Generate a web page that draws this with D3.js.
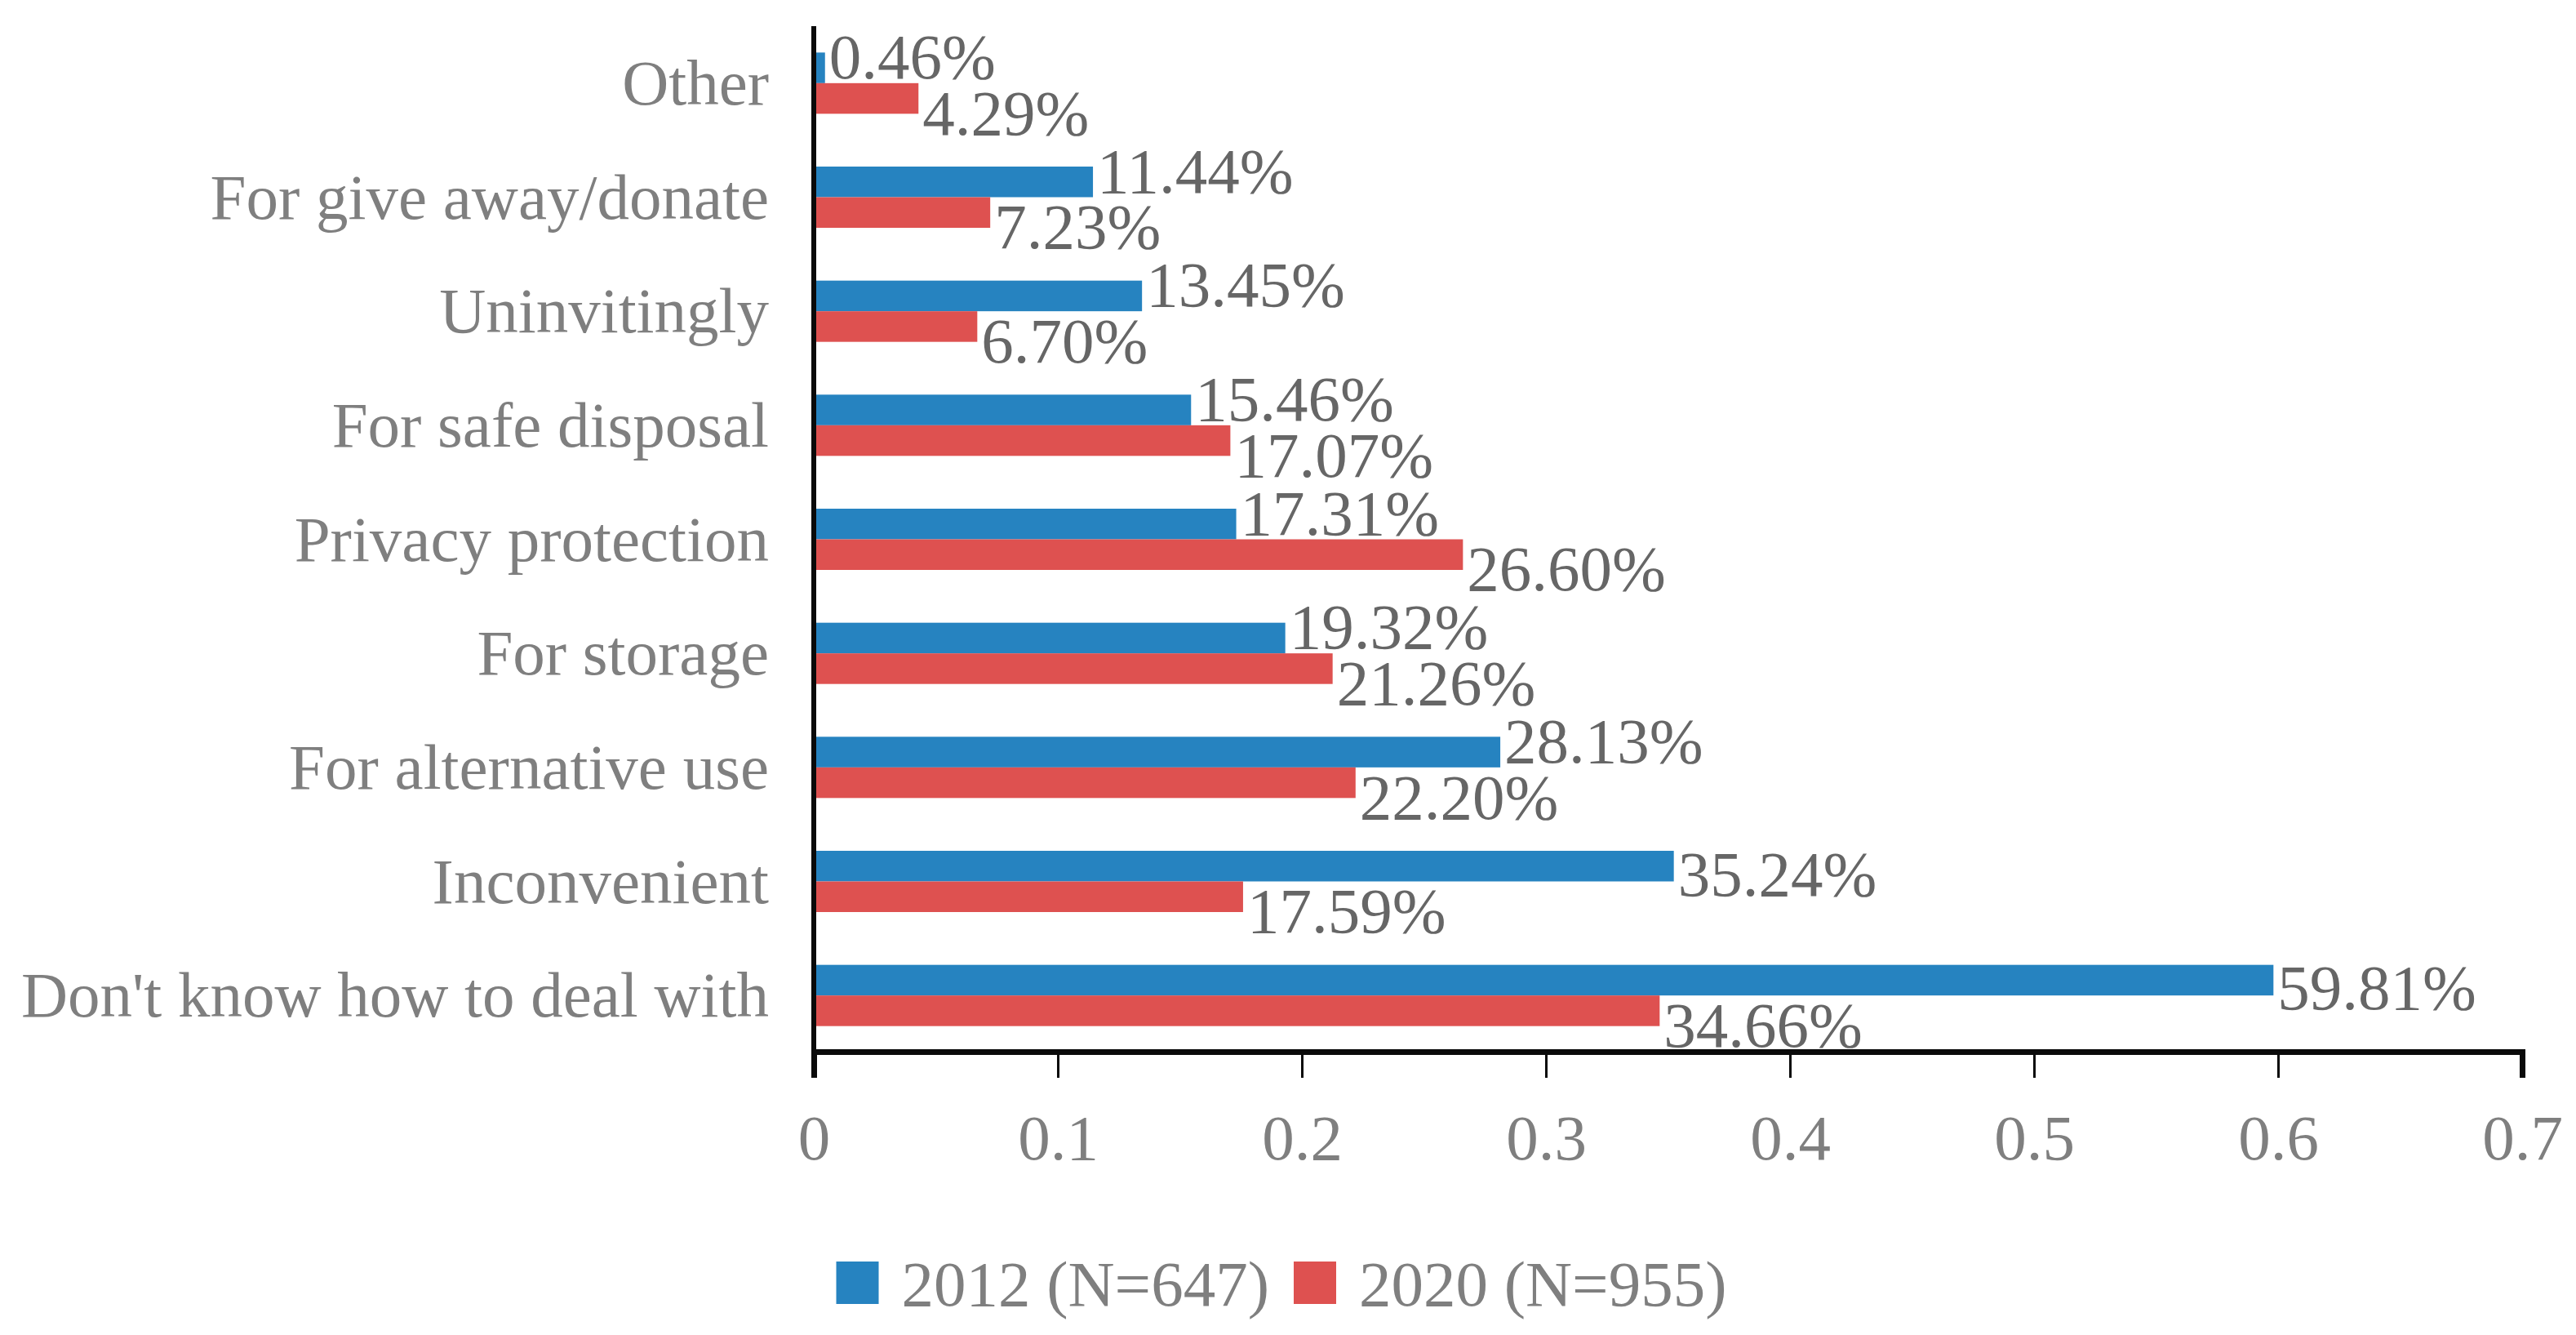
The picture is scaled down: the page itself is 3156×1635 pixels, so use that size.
<!DOCTYPE html>
<html>
<head>
<meta charset="utf-8">
<script src="https://cdn.jsdelivr.net/npm/d3@7"></script>
<style>
  html, body { margin: 0; padding: 0; background: #fff; }
  svg text { font-family: "Liberation Serif", "Times New Roman", serif; }
</style>
</head>
<body>
<svg id="chart"></svg>
<script>
// data (top to bottom)
const categories = ["Other", "For give away/donate", "Uninvitingly", "For safe disposal",
  "Privacy protection", "For storage", "For alternative use", "Inconvenient",
  "Don't know how to deal with"];
const series = ["2012 (N=647)", "2020 (N=955)"];
const values2012 = [0.0046, 0.1144, 0.1345, 0.1546, 0.1731, 0.1932, 0.2813, 0.3524, 0.5981];
const values2020 = [0.0429, 0.0723, 0.0670, 0.1707, 0.2660, 0.2126, 0.2220, 0.1759, 0.3466];
const xTicks = [0, 0.1, 0.2, 0.3, 0.4, 0.5, 0.6, 0.7];

const width = 3156, height = 1635;
const colors = ["#2683c0", "#de5150"];
const fs = 79;

const svg = d3.select('#chart').attr('width', width).attr('height', height);

const x = d3.scaleLinear().domain([0, 0.7]).range([997, 3090]);
const y = d3.scaleBand().domain(categories).range([32, 1289])
  .paddingInner(0.463).paddingOuter(0.2315);
const ySub = d3.scaleBand().domain(series).range([0, y.bandwidth()]);

const rows = categories.map((c, i) => ({ cat: c, vals: [values2012[i], values2020[i]] }));

// bars
const groups = svg.append('g').selectAll('g')
  .data(rows).enter().append('g')
  .attr('transform', d => `translate(0,${y(d.cat)})`);

groups.selectAll('rect')
  .data(d => d.vals.map((v, k) => ({ v, k })))
  .enter().append('rect')
  .attr('x', x(0))
  .attr('y', d => ySub(series[d.k]))
  .attr('width', d => x(d.v) - x(0))
  .attr('height', ySub.bandwidth())
  .attr('fill', d => colors[d.k]);

// data labels: red one sits a bit below its bar,
// blue one goes up when the red bar/label would run under it
const fmt = v => (v * 100).toFixed(2) + '%';
const gap = 5;
groups.each(function (d) {
  const g = d3.select(this);
  const cap = fs * 0.33;
  const lab = d.vals.map((v, k) => g.append('text')
    .attr('x', x(v) + gap)
    .attr('font-size', fs)
    .attr('fill', '#666')
    .text(fmt(v)));
  const wRed = lab[1].node().getComputedTextLength();
  const cBlue = ySub(series[0]) + ySub.bandwidth() / 2;
  const cRed = ySub(series[1]) + ySub.bandwidth() / 2;
  const collide = x(d.vals[0]) < x(d.vals[1]) + gap + wRed;
  lab[0].attr('y', cBlue + (collide ? -13 : 10) + cap);
  lab[1].attr('y', cRed + 18 + cap);
});

// category labels
svg.append('g').selectAll('text')
  .data(categories).enter().append('text')
  .attr('x', 942)
  .attr('y', d => y(d) + y.bandwidth() / 2 + fs * 0.33)
  .attr('text-anchor', 'end')
  .attr('font-size', fs)
  .attr('fill', '#7f7f7f')
  .text(d => d);

// x axis
const xAxis = svg.append('g')
  .attr('transform', 'translate(0,1288)')
  .call(d3.axisBottom(x).tickValues(xTicks).tickSize(32).tickPadding(44)
    .tickFormat(d => d3.format('')(d)));
xAxis.select('.domain').attr('stroke', '#0a0a0a').attr('stroke-width', 7);
xAxis.selectAll('.tick line').attr('stroke', '#0a0a0a').attr('stroke-width', 3);
xAxis.selectAll('.tick text')
  .attr('font-size', fs)
  .attr('font-family', '"Liberation Serif", "Times New Roman", serif')
  .attr('fill', '#7f7f7f');

// y axis line
svg.append('line')
  .attr('x1', x(0)).attr('x2', x(0))
  .attr('y1', 32).attr('y2', 1320)
  .attr('stroke', '#0a0a0a').attr('stroke-width', 6);

// legend, centred under the chart
const legend = svg.append('g');
let lx = 0;
series.forEach((s, k) => {
  legend.append('rect')
    .attr('x', lx).attr('y', 1545)
    .attr('width', 52).attr('height', 52)
    .attr('fill', colors[k]);
  const t = legend.append('text')
    .attr('x', lx + 80).attr('y', 1599)
    .attr('font-size', fs)
    .attr('fill', '#7f7f7f')
    .text(s);
  lx += 80 + t.node().getComputedTextLength() + 30;
});
const lw = lx - 30;
legend.attr('transform', `translate(${1570 - lw / 2},0)`);
</script>
</body>
</html>
